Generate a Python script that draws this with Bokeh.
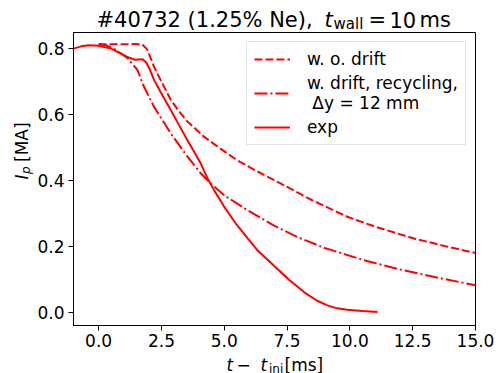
import math
from bokeh.plotting import figure
from bokeh.layouts import column, row
from bokeh.models import Range1d, FixedTicker, PrintfTickFormatter, Label, Legend, LegendItem
from bokeh.embed import file_html
from bokeh.resources import INLINE

# ---- data ----
t_nodrift = [0.0, 0.8, 1.5, 1.75, 1.94, 2.2, 2.5, 2.87, 3.2, 3.53, 4.19, 4.86, 5.5, 6.3,
             7.24, 8.5, 9.9, 11.0, 12.55, 14.0, 15.0]
ip_nodrift = [0.813, 0.813, 0.814, 0.812, 0.797, 0.746, 0.700, 0.645, 0.610, 0.579, 0.533,
              0.496, 0.462, 0.428, 0.391, 0.340, 0.290, 0.260, 0.224, 0.197, 0.180]

t_drift = [0.0, 0.3, 0.6, 0.9, 1.14, 1.54, 1.80, 2.2, 2.87, 3.53, 4.06, 4.46, 5.0, 5.92,
           7.0, 7.9, 9.0, 10.56, 12.0, 13.5, 15.0]
ip_drift = [0.813, 0.810, 0.800, 0.785, 0.772, 0.736, 0.685, 0.624, 0.543, 0.473, 0.422,
            0.391, 0.355, 0.310, 0.262, 0.229, 0.195, 0.158, 0.130, 0.105, 0.082]

t_exp = [-1.0, -0.7, -0.4, 0.0, 0.5, 0.9, 1.2, 1.45, 1.6, 1.75, 1.9, 2.05, 2.2, 2.5, 2.87,
         3.2, 3.53, 3.8, 4.06, 4.33, 4.6, 5.0, 5.5, 6.3, 7.0, 7.6, 8.2, 8.7, 9.1, 9.5, 9.9,
         10.5, 11.1]
ip_exp = [0.800, 0.807, 0.810, 0.809, 0.800, 0.784, 0.773, 0.766, 0.767, 0.768, 0.757, 0.735,
          0.706, 0.664, 0.614, 0.568, 0.523, 0.487, 0.452, 0.407, 0.370, 0.320, 0.265, 0.190,
          0.140, 0.097, 0.060, 0.035, 0.021, 0.012, 0.008, 0.004, 0.001]

x_ticks = [0.0, 2.5, 5.0, 7.5, 10.0, 12.5, 15.0]
y_ticks = [0.0, 0.2, 0.4, 0.6, 0.8]

legend_labels = ["w. o. drift", "w. drift, recycling,\n \u0394y = 12 mm", "exp"]

FONT = "DejaVu Sans"
RED = "#ff0000"


def text_panel(w, h):
    """A bare figure whose frame fills its whole canvas, used to hold composed texts."""
    f = figure(width=w, height=h, output_backend="svg", toolbar_location=None,
               x_axis_type=None, y_axis_type=None,
               x_range=Range1d(0, 1), y_range=Range1d(0, 1), min_border=0)
    f.title.visible = False
    f.xgrid.visible = False
    f.ygrid.visible = False
    f.outline_line_color = None
    f.background_fill_color = "white"
    f.border_fill_color = "white"
    return f


def lab(fig, text, fx, fy, size=17, style="normal", rotated=False):
    # baseline correction (text sits slightly low relative to its anchor)
    shift = 0.27 * size
    if rotated:
        fx, angle = fx - shift, math.pi / 2
    else:
        fy, angle = fy + shift, 0.0
    fig.add_layout(Label(x=fx, y=fy, x_units="screen", y_units="screen", text=text,
                         text_font=FONT, text_font_size=f"{size}px", text_font_style=style,
                         text_color="black", text_baseline="alphabetic", text_align="left",
                         angle=angle, angle_units="rad"))


# ---- main plot ----
p = figure(width=469, height=321, output_backend="svg", toolbar_location=None,
           x_range=Range1d(-1.0, 15.0), y_range=Range1d(-0.040, 0.849),
           min_border_left=40, min_border_right=27, min_border_top=0, min_border_bottom=28)
p.title.visible = False
p.xgrid.visible = False
p.ygrid.visible = False
p.outline_line_color = "black"
p.outline_line_width = 1
p.background_fill_color = "white"
p.border_fill_color = "white"

p.xaxis.ticker = FixedTicker(ticks=x_ticks)
p.yaxis.ticker = FixedTicker(ticks=y_ticks)
p.xaxis.formatter = PrintfTickFormatter(format="%.1f")
p.yaxis.formatter = PrintfTickFormatter(format="%.1f")
for ax in (p.xaxis, p.yaxis):
    ax.axis_line_color = "black"
    ax.major_tick_line_color = "black"
    ax.major_tick_out = 5
    ax.major_tick_in = 0
    ax.minor_tick_line_color = None
    ax.major_label_text_font = FONT
    ax.major_label_text_font_size = "17px"
    ax.major_label_text_color = "black"
p.xaxis.major_label_standoff = 3
p.yaxis.major_label_standoff = 4

r_nd = p.line(t_nodrift, ip_nodrift, line_color=RED, line_width=2, line_dash="8 3")
r_dr = p.line(t_drift, ip_drift, line_color=RED, line_width=2, line_dash="13 3 2 3")
r_ex = p.line(t_exp, ip_exp, line_color=RED, line_width=2)

legend = Legend(items=[LegendItem(label=legend_labels[0], renderers=[r_nd]),
                       LegendItem(label=legend_labels[1], renderers=[r_dr]),
                       LegendItem(label=legend_labels[2], renderers=[r_ex])],
                location="top_right", margin=9, padding=7, spacing=4,
                glyph_width=36, glyph_height=20, label_standoff=17,
                label_text_font=FONT, label_text_font_size="17px", label_text_color="black",
                border_line_color="#cccccc", border_line_width=1,
                background_fill_color="white", background_fill_alpha=0.8)
p.add_layout(legend)

# ---- title: #40732 (1.25% Ne), t_wall = 10 ms ----
tf = text_panel(502, 32)
lab(tf, "#40732 (1.25% Ne),", 96, 7, 21)
lab(tf, "t", 324, 7, 21, "italic")
lab(tf, "wall", 333, 4, 15)
lab(tf, "=", 368, 7, 21)
lab(tf, "10", 389, 7, 21)
lab(tf, "ms", 419, 7, 21)

# ---- y label: I_p [MA] ----
yf = text_panel(33, 321)
lab(yf, "I", 26, 146, 17, "italic", rotated=True)
lab(yf, "p", 28.5, 151.5, 12, "italic", rotated=True)
lab(yf, "[MA]", 26, 163.5, 17, "normal", rotated=True)

# ---- x label: t - t_inj [ms] ----
xf = text_panel(502, 20)
lab(xf, "t", 226, 4, 17, "italic")
lab(xf, "\u2212", 236, 4, 17)
lab(xf, "t", 260, 4, 17, "italic")
lab(xf, "inj", 268.5, 1.5, 12)
lab(xf, "[ms]", 284, 4, 17)

page = column(tf, row(yf, p, spacing=0), xf, spacing=0)

open("out.html", "w").write(file_html(page, INLINE))
